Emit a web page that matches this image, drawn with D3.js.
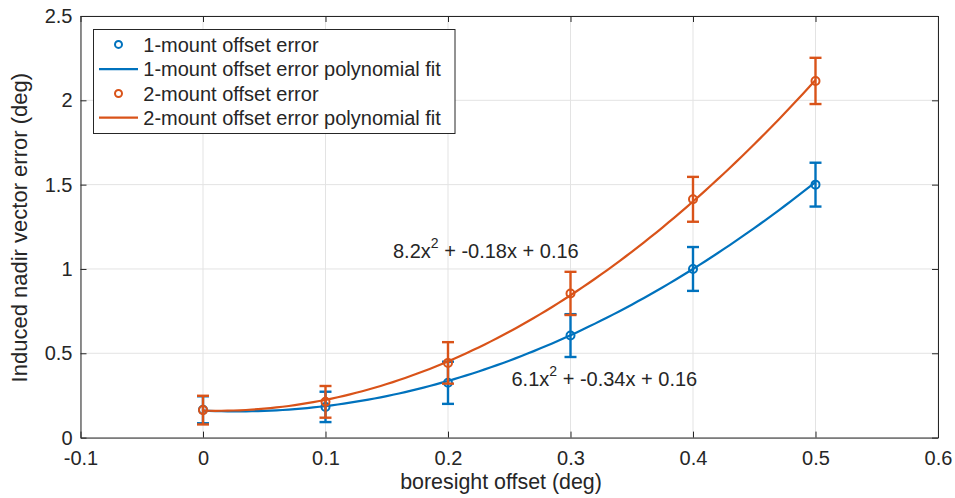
<!DOCTYPE html>
<html>
<head>
<meta charset="utf-8">
<script src="https://cdn.jsdelivr.net/npm/d3@7"></script>
<style>
  body { margin: 0; background: #fff; }
  svg { display: block; font-family: "Liberation Sans", Arial, Helvetica, sans-serif; }
</style>
</head>
<body>
<svg id="chart" width="955" height="498"></svg>
<script>
// Offsets (deg) at which the error was measured
const offsets = [0, 0.1, 0.2, 0.3, 0.4, 0.5];
// Mean induced nadir vector error and its spread, per mount configuration
const oneMountErr   = [0.165, 0.182, 0.325, 0.605, 1.0, 1.5];
const oneMountSpread = [0.08, 0.09, 0.125, 0.127, 0.13, 0.13];
const twoMountErr   = [0.163, 0.212, 0.443, 0.855, 1.413, 2.115];
const twoMountSpread = [0.085, 0.094, 0.123, 0.128, 0.133, 0.137];
// Quadratic fit coefficients [a, b, c] for a*x^2 + b*x + c
const oneMountFit = [6.1, -0.34, 0.16];
const twoMountFit = [8.2, -0.18, 0.16];
const xTicks = [-0.1, 0, 0.1, 0.2, 0.3, 0.4, 0.5, 0.6];
const yTicks = [0, 0.5, 1, 1.5, 2, 2.5];

const blue = "#0072BD", orange = "#D95319";
const axisColor = "#262626", gridColor = "#e3e3e3";

const svg = d3.select("#chart");
const L = 80.5, R = 938, T = 16, B = 437.6;
const x = d3.scaleLinear().domain([-0.1, 0.6]).range([L, R]);
const y = d3.scaleLinear().domain([0, 2.5]).range([B, T]);

// grid
svg.append("g").selectAll("line").data(xTicks).join("line")
  .attr("x1", d => x(d)).attr("x2", d => x(d)).attr("y1", T).attr("y2", B)
  .attr("stroke", gridColor).attr("stroke-width", 1);
svg.append("g").selectAll("line").data(yTicks).join("line")
  .attr("x1", L).attr("x2", R).attr("y1", d => y(d)).attr("y2", d => y(d))
  .attr("stroke", gridColor).attr("stroke-width", 1);

// axes (ticks point inward, box around plot); plain hyphen for negatives
const fmt = d => String(+d.toFixed(1));
const xAxis = d3.axisBottom(x).tickValues(xTicks).tickSizeInner(-6).tickSizeOuter(0).tickPadding(13).tickFormat(fmt);
const yAxis = d3.axisLeft(y).tickValues(yTicks).tickSizeInner(-6).tickSizeOuter(0).tickPadding(8).tickFormat(fmt);
const gx = svg.append("g").attr("transform", `translate(0,${B})`).call(xAxis);
const gy = svg.append("g").attr("transform", `translate(${L},0)`).call(yAxis);
const gxTop = svg.append("g").attr("transform", `translate(0,${T})`).call(d3.axisTop(x).tickValues(xTicks).tickSizeInner(-6).tickSizeOuter(0).tickFormat(""));
const gyRight = svg.append("g").attr("transform", `translate(${R},0)`).call(d3.axisRight(y).tickValues(yTicks).tickSizeInner(-6).tickSizeOuter(0).tickFormat(""));
[gx, gy, gxTop, gyRight].forEach(g => {
  g.select(".domain").attr("stroke", axisColor).attr("stroke-width", 1);
  g.selectAll(".tick line").attr("stroke", axisColor).attr("stroke-width", 1);
  g.selectAll(".tick text").attr("fill", axisColor).attr("font-size", 20).attr("font-family", null);
});

// axis titles
svg.append("text").attr("x", 501).attr("y", 489).attr("text-anchor", "middle")
  .attr("font-size", 21.4).attr("fill", axisColor).text("boresight offset (deg)");
svg.append("text").attr("transform", `translate(27,227.7) rotate(-90)`).attr("text-anchor", "middle")
  .attr("font-size", 22).attr("fill", axisColor).text("Induced nadir vector error (deg)");

// fitted curves
const poly = c => v => c[0] * v * v + c[1] * v + c[2];
const xs = d3.range(0, 0.5 + 1e-9, 0.005);
const line = d3.line().x(d => x(d[0])).y(d => y(d[1]));
function drawSeries(vals, spread, fit, color) {
  const f = poly(fit);
  svg.append("path").datum(xs.map(v => [v, f(v)])).attr("d", line)
    .attr("fill", "none").attr("stroke", color).attr("stroke-width", 2.2);
  const g = svg.append("g").attr("stroke", color).attr("fill", "none").attr("stroke-width", 2.4);
  offsets.forEach((o, i) => {
    const cx = x(o), lo = y(vals[i] - spread[i]), hi = y(vals[i] + spread[i]);
    g.append("line").attr("x1", cx).attr("x2", cx).attr("y1", lo).attr("y2", hi);
    g.append("line").attr("x1", cx - 6).attr("x2", cx + 6).attr("y1", lo).attr("y2", lo);
    g.append("line").attr("x1", cx - 6).attr("x2", cx + 6).attr("y1", hi).attr("y2", hi);
    g.append("circle").attr("cx", cx).attr("cy", y(vals[i])).attr("r", 4).attr("stroke-width", 2);
  });
}
drawSeries(oneMountErr, oneMountSpread, oneMountFit, blue);
drawSeries(twoMountErr, twoMountSpread, twoMountFit, orange);

// fit equations
function fitLabel(c, px, py) {
  const t = svg.append("text").attr("x", px).attr("y", py).attr("font-size", 20).attr("fill", axisColor);
  t.append("tspan").text(`${c[0]}x`);
  t.append("tspan").attr("dy", -10).attr("font-size", 14).text("2");
  t.append("tspan").attr("dy", 10).text(` + ${c[1]}x + ${c[2]}`);
}
fitLabel(twoMountFit, 393, 257.7);
fitLabel(oneMountFit, 511.5, 385.7);

// legend
const legend = svg.append("g");
legend.append("rect").attr("x", 93.5).attr("y", 29.5).attr("width", 361.5).attr("height", 104)
  .attr("fill", "#fff").attr("stroke", axisColor).attr("stroke-width", 1);
const entries = [
  { label: "1-mount offset error", color: blue, kind: "marker" },
  { label: "1-mount offset error polynomial fit", color: blue, kind: "line" },
  { label: "2-mount offset error", color: orange, kind: "marker" },
  { label: "2-mount offset error polynomial fit", color: orange, kind: "line" }
];
const rowBase = [51.7, 76.4, 100.8, 125];
entries.forEach((e, i) => {
  const cy = rowBase[i] - 7.3;
  if (e.kind === "marker") {
    legend.append("circle").attr("cx", 118.5).attr("cy", cy).attr("r", 3.5)
      .attr("fill", "none").attr("stroke", e.color).attr("stroke-width", 2);
  } else {
    legend.append("line").attr("x1", 99).attr("x2", 138).attr("y1", cy).attr("y2", cy)
      .attr("stroke", e.color).attr("stroke-width", 2.2);
  }
  legend.append("text").attr("x", 143.3).attr("y", rowBase[i]).attr("font-size", 20).attr("fill", axisColor).text(e.label);
});
</script>
</body>
</html>
